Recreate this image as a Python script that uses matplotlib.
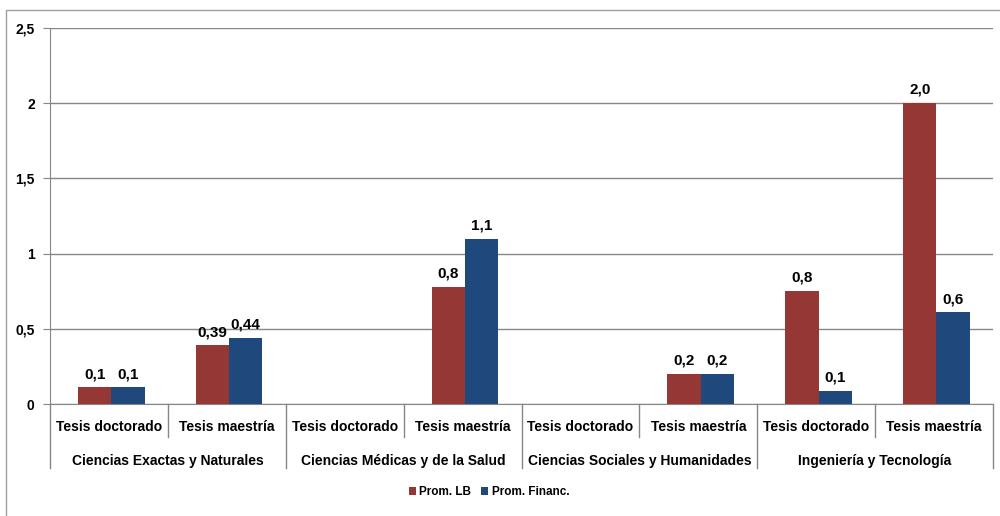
import matplotlib.pyplot as plt
from matplotlib.patches import Rectangle

plt.rcParams['font.family'] = ['Liberation Sans Narrow', 'Liberation Sans', 'DejaVu Sans']
plt.rcParams['font.weight'] = 'bold'

# data
areas = ['Ciencias Exactas y Naturales', 'Ciencias Médicas y de la Salud',
         'Ciencias Sociales y Humanidades', 'Ingeniería y Tecnología']
tesis = ['Tesis doctorado', 'Tesis maestría']
prom_lb = [0.11, 0.39, 0.0, 0.78, 0.0, 0.2, 0.75, 2.0]
prom_fin = [0.11, 0.44, 0.0, 1.1, 0.0, 0.2, 0.085, 0.61]
lab_lb = ['0,1', '0,39', '', '0,8', '', '0,2', '0,8', '2,0']
lab_fin = ['0,1', '0,44', '', '1,1', '', '0,2', '0,1', '0,6']
yticks = [0, 0.5, 1, 1.5, 2, 2.5]
ytick_labels = ['0', '0,5', '1', '1,5', '2', '2,5']

red = '#953735'
blue = '#1F497D'
grid = '#868686'

W, H = 1000, 516
fig = plt.figure(figsize=(W / 100, H / 100), dpi=100)

# outer chart border (right and bottom edges fall outside the picture)
fig.patches.append(Rectangle((6 / W, -0.1), 1.2, 1.1 - 10 / H,
                             transform=fig.transFigure, fill=False,
                             edgecolor='#A0A0A0', linewidth=1))

ax = fig.add_axes([50 / W, 1 - 404 / H, 943 / W, 376 / H])
n = len(prom_lb)
xs = [i + 0.52 for i in range(n)]
bw = 0.282
b1 = ax.bar([x - bw / 2 for x in xs], prom_lb, bw, color=red, label='Prom. LB', zorder=3)
b2 = ax.bar([x + bw / 2 for x in xs], prom_fin, bw, color=blue, label='Prom. Financ.', zorder=3)

for bars, labs in ((b1, lab_lb), (b2, lab_fin)):
    for r, t in zip(bars, labs):
        if t:
            ax.annotate(t, (r.get_x() + r.get_width() / 2, r.get_height()),
                        xytext=(0, 4.5), textcoords='offset points',
                        ha='center', va='bottom', fontsize=11, fontweight='bold')

ax.set_xlim(0, n)
ax.set_ylim(0, 2.5)
ax.set_yticks(yticks)
ax.set_yticklabels(ytick_labels, fontsize=10, fontweight='bold')
ax.yaxis.grid(True, color=grid, linewidth=1, zorder=0)
ax.tick_params(axis='y', length=5, color=grid, pad=6)
ax.set_xticks([])
for s in ['top', 'right']:
    ax.spines[s].set_visible(False)
for s in ['left', 'bottom']:
    ax.spines[s].set_color(grid)

# multi-level category axis
tr = ax.get_xaxis_transform()
y_in = -(437 - 404) / 376
y_out = -(468 - 404) / 376
for k in range(n + 1):
    y_end = y_out if k % 2 == 0 else y_in
    ax.plot([k, k], [0, y_end], transform=tr, color=grid, lw=1, clip_on=False)
for i in range(n):
    ax.text(i + 0.5, -(427 - 404) / 376, tesis[i % 2], transform=tr,
            ha='center', va='center', fontsize=10, fontweight='bold')
for j, a in enumerate(areas):
    ax.text(2 * j + 1, -(461 - 404) / 376, a, transform=tr,
            ha='center', va='center', fontsize=10, fontweight='bold')

fig.legend(handles=[b1, b2], loc='center', bbox_to_anchor=(489 / W, 1 - 492 / H),
           ncol=2, frameon=False, fontsize=8.5, handlelength=0.6, handleheight=0.6,
           handletextpad=0.3, columnspacing=0.8)

fig.savefig('out.png', dpi=100)
